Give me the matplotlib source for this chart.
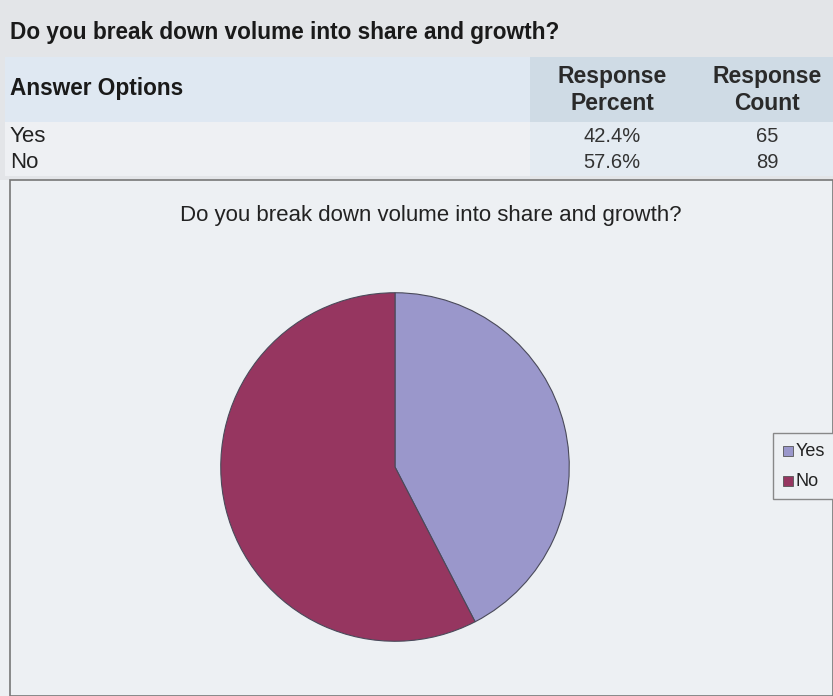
import matplotlib.pyplot as plt
from matplotlib.patches import Rectangle

plt.rcParams['font.family'] = ['Liberation Sans', 'DejaVu Sans']

question = 'Do you break down volume into share and growth?'
answers = ['Yes', 'No']
percents = [42.4, 57.6]
counts = [65, 89]
colors = ['#9a97cb', '#963660']

W, H = 833, 696
fig = plt.figure(figsize=(W / 100, H / 100), dpi=100)
fig.patch.set_facecolor('#edf0f3')

# background axes in pixel coordinates
bg = fig.add_axes([0, 0, 1, 1])
bg.set_xlim(0, W)
bg.set_ylim(H, 0)
bg.axis('off')

def box(x, y, w, h, fc, ec='none', lw=0):
    bg.add_patch(Rectangle((x, y), w, h, facecolor=fc, edgecolor=ec, linewidth=lw))

# survey table
box(0, 0, W, 180, '#e3e5e8')
box(5, 57, 525, 65, '#dfe8f2')
box(530, 57, 303, 65, '#cfdbe5')
box(5, 122, 525, 54, '#eef0f3')
box(530, 122, 303, 54, '#e4ebf2')

dark = '#1a1a1a'
bg.text(10, 32, question, fontsize=16.3, fontweight='bold', va='center', color=dark)
bg.text(10, 89, 'Answer Options', fontsize=16.3, fontweight='bold', va='center', color=dark)
bg.text(612, 90, 'Response\nPercent', fontsize=16.5, fontweight='bold', va='center', ha='center',
        linespacing=1.22, color='#2a2a2a')
bg.text(767, 90, 'Response\nCount', fontsize=16.5, fontweight='bold', va='center', ha='center',
        linespacing=1.22, color='#2a2a2a')
for i, (a, p, c) in enumerate(zip(answers, percents, counts)):
    y = 137 + i * 26
    bg.text(10, y, a, fontsize=16, va='center', color='#222222')
    bg.text(612, y, f'{p:.1f}%', fontsize=14.5, va='center', ha='center', color='#333333')
    bg.text(767, y, str(c), fontsize=14.5, va='center', ha='center', color='#333333')

# chart frame
box(10, 180, W - 10, H - 180, '#edf0f3', ec='#777777', lw=1.2)
bg.text(431, 215, question, fontsize=16, va='center', ha='center', color='#222222')

# pie
cx, cy, r = 395, 467, 176
ax = fig.add_axes([(cx - r) / W, (H - cy - r) / H, 2 * r / W, 2 * r / H])
ax.pie(percents, colors=colors, startangle=90, counterclock=False,
       wedgeprops=dict(edgecolor='#4a4a5a', linewidth=0.8))
ax.set_xlim(-1.01, 1.01)
ax.set_ylim(-1.01, 1.01)
ax.set_aspect('equal')
ax.axis('off')

# legend
box(773, 433, 62, 66, '#edf0f3', ec='#888888', lw=1)
for i, (a, col) in enumerate(zip(answers, colors)):
    y = 451 + i * 30
    box(783, y - 5, 10, 10, col, ec='#555555', lw=0.6)
    bg.text(796, y, a, fontsize=13, va='center', color='#222222')

fig.savefig('out.png', dpi=100, facecolor=fig.get_facecolor())
